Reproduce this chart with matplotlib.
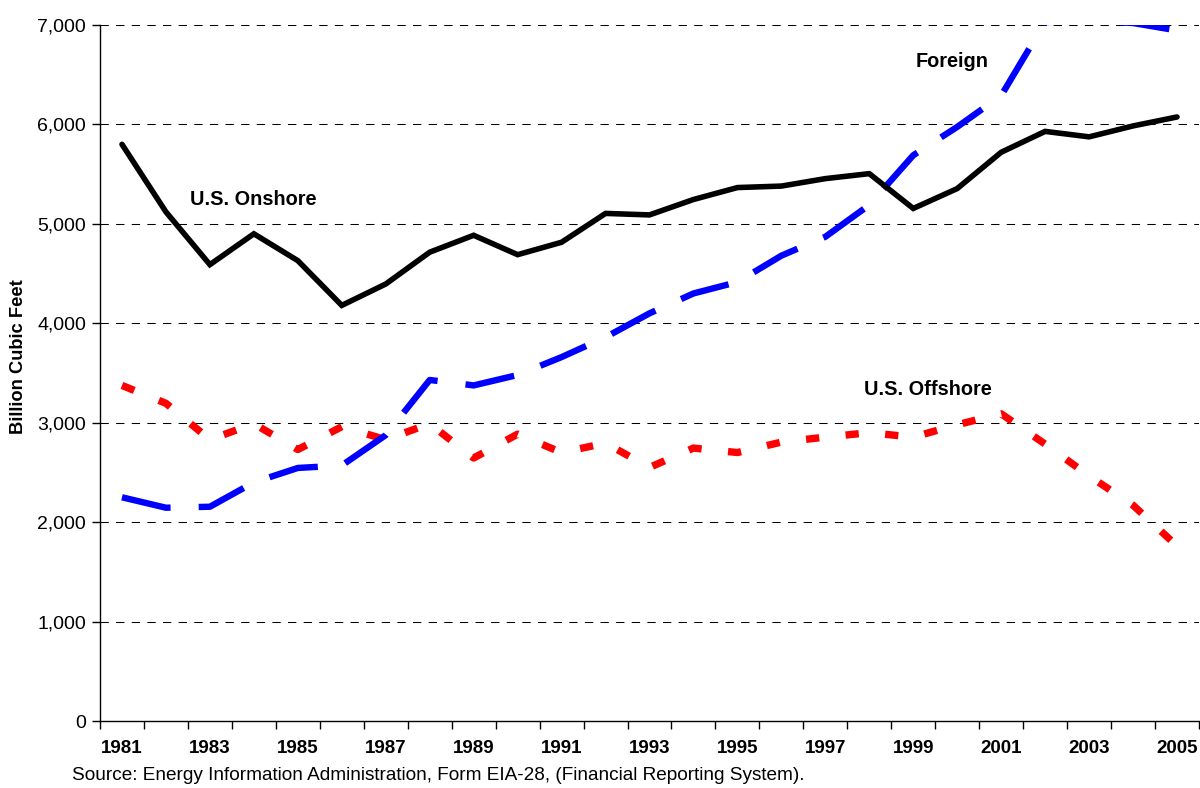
import matplotlib
matplotlib.use("Agg")
import matplotlib.pyplot as plt
from matplotlib.ticker import FuncFormatter, FixedLocator

plt.rcParams['font.family'] = ['Liberation Sans', 'DejaVu Sans']

years = list(range(1981, 2006))

# Billion cubic feet
onshore = [5800, 5120, 4590, 4900, 4630, 4180, 4395, 4715, 4885, 4690,
           4815, 5105, 5090, 5245, 5365, 5380, 5455, 5505, 5155, 5355,
           5720, 5930, 5875, 5985, 6075]
foreign = [2250, 2145, 2155, 2400, 2545, 2570, 2875, 3430, 3375, 3480,
           3660, 3860, 4100, 4300, 4415, 4680, 4870, 5190, 5690, 5975,
           6290, 7030, 7040, 7020, 6945]
offshore = [3375, 3195, 2830, 2990, 2730, 2960, 2830, 2990, 2645, 2885,
            2700, 2795, 2550, 2745, 2700, 2805, 2855, 2900, 2855, 2980,
            3090, 2785, 2465, 2170, 1760]

tick_years = years[::2]
source = ("Source: Energy Information Administration, Form EIA-28, "
          "(Financial Reporting System).")

fig = plt.figure(figsize=(12, 7.88), dpi=100)
ax = fig.add_axes([100 / 1200, 67 / 788, 1099 / 1200, 696 / 788])

# gridlines
for v in range(1000, 8000, 1000):
    ax.axhline(v, color="black", lw=0.75, ls=(0, (8, 7)), zorder=1)

ax.plot(years, offshore, color="#ff0000", lw=5.3, dashes=(1.8, 3.6),
        dash_capstyle="butt", zorder=2)
ax.plot(years, foreign, color="#0000ff", lw=4.6, dashes=(7.8, 4.4),
        dash_capstyle="butt", zorder=3)
ax.plot(years, onshore, color="black", lw=4.0, solid_capstyle="round",
        solid_joinstyle="miter", zorder=4)

ax.set_xlim(1980.5, 2005.5)
ax.set_ylim(0, 7000)

ax.xaxis.set_major_locator(FixedLocator(tick_years))
ax.xaxis.set_minor_locator(FixedLocator([y - 0.5 for y in years] + [2005.5]))
ax.tick_params(axis="x", which="major", length=0, pad=14, labelsize=13.5)
ax.tick_params(axis="x", which="minor", length=6, width=1, direction="out")
for lab in ax.get_xticklabels():
    lab.set_fontweight("bold")

ax.set_yticks(range(0, 8000, 1000))
ax.yaxis.set_major_formatter(FuncFormatter(lambda v, p: f"{int(v):,}"))
ax.tick_params(axis="y", length=6, width=1, direction="out", labelsize=14, pad=4)

for s in ["top", "right"]:
    ax.spines[s].set_visible(False)
for s in ["left", "bottom"]:
    ax.spines[s].set_linewidth(1)
    ax.spines[s].set_zorder(5)

ax.text(1982.55, 5240, "U.S. Onshore", fontsize=14.3, fontweight="bold",
        va="center", ha="left")
ax.text(1999.05, 6630, "Foreign", fontsize=14.3, fontweight="bold",
        va="center", ha="left")
ax.text(1997.89, 3330, "U.S. Offshore", fontsize=14.3, fontweight="bold",
        va="center", ha="left")

fig.text(19 / 1200, 1 - 357 / 788, "Billion Cubic Feet", rotation=90,
         fontsize=13.2, fontweight="bold", ha="center", va="center")
fig.text(72 / 1200, 1 - 776 / 788, source, fontsize=13.7, ha="left", va="center")

fig.savefig("out.png", dpi=100)
